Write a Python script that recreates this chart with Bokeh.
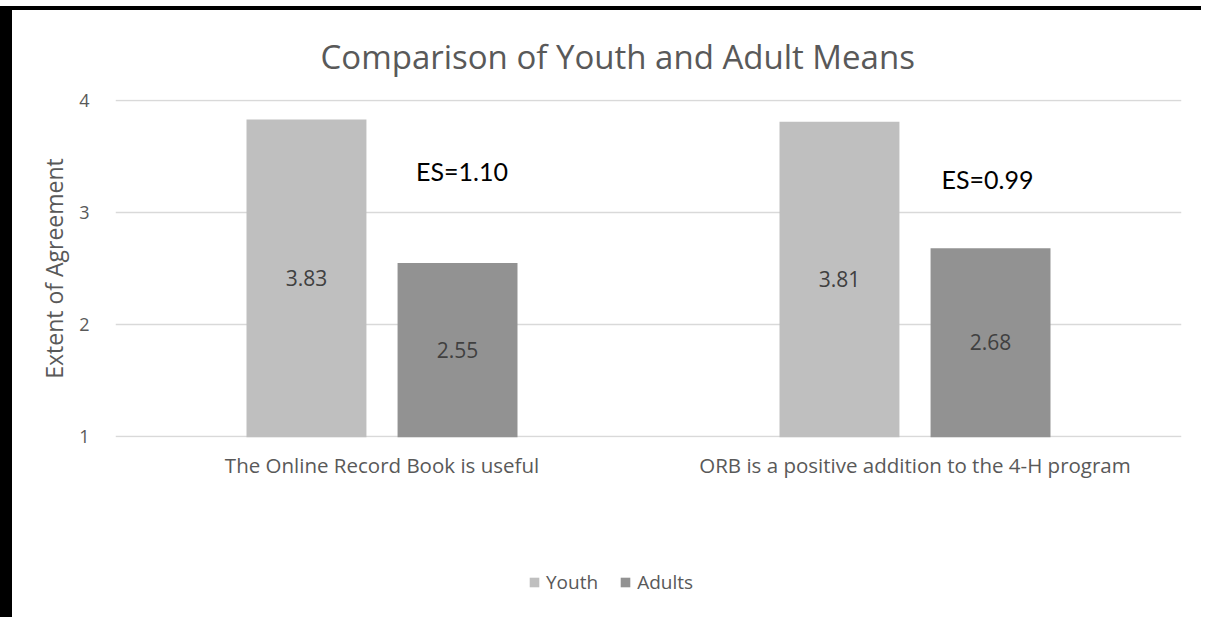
from bokeh.plotting import figure
from bokeh.models import ColumnDataSource, FactorRange, Range1d, Label, Legend, LegendItem, FixedTicker, Title
from bokeh.layouts import column
from bokeh.transform import dodge
from bokeh.core.properties import value
from bokeh.embed import file_html
from bokeh.resources import INLINE
import numpy as np

# ---- data ----
categories = ["The Online Record Book is useful", "ORB is a positive addition to the 4-H program"]
youth = [3.83, 3.81]
adults = [2.55, 2.68]
effect_sizes = ["ES=1.10", "ES=0.99"]
y_ticks = [1, 2, 3, 4]
series_names = ["Youth", "Adults"]

FONT = "Open Sans"
FONT_ES = "Lato"
GREY_TXT = "#595959"
C_YOUTH = "#bfbfbf"
C_ADULT = "#929292"

y_min, y_max = 1, 4
pad = 1 / 112.0

src = ColumnDataSource(dict(
    cat=categories,
    youth=youth,
    adults=adults,
    youth_lbl=[f"{v:.2f}" for v in youth],
    adults_lbl=[f"{v:.2f}" for v in adults],
    youth_mid=list((np.array(youth) + y_min) / 2),
    adults_mid=list((np.array(adults) + y_min) / 2),
))

p = figure(
    x_range=FactorRange(*categories, range_padding=0),
    y_range=Range1d(y_min - pad, y_max + pad),
    frame_width=1066, frame_height=338,
    min_border_left=103, min_border_right=20, min_border_top=80, min_border_bottom=131,
    output_backend="svg", toolbar_location=None,
    background_fill_color="white", border_fill_color="white",
    outline_line_color=None,
)

off = 0.1417
bw = 0.225
p.vbar(x=dodge("cat", -off, range=p.x_range), top="youth", bottom=0, width=bw,
       source=src, fill_color=C_YOUTH, line_color=None)
p.vbar(x=dodge("cat", off, range=p.x_range), top="adults", bottom=0, width=bw,
       source=src, fill_color=C_ADULT, line_color=None)

p.text(x=dodge("cat", -off, range=p.x_range), y="youth_mid", text="youth_lbl", source=src,
       text_font=value(FONT), text_font_size="21px", text_color="#404040",
       text_align="center", text_baseline="middle")
p.text(x=dodge("cat", off, range=p.x_range), y="adults_mid", text="adults_lbl", source=src,
       text_font=value(FONT), text_font_size="21px", text_color="#404040",
       text_align="center", text_baseline="middle")

# effect size annotations
es_pos = [(0.650, 3.375), (1.636, 3.30)]
for (ex, ey), t in zip(es_pos, effect_sizes):
    p.add_layout(Label(x=ex, y=ey, text=t, text_font=FONT_ES, text_font_size="25px",
                       text_color="black", text_align="center", text_baseline="middle"))

# title
title = Title(text="Comparison of Youth and Adult Means", align="left", offset=205,
              text_font=FONT, text_font_size="33px", text_color=GREY_TXT,
              text_font_style="normal", standoff=42)
p.add_layout(title, "above")

# axes
p.xgrid.grid_line_color = None
p.ygrid.grid_line_color = "#d9d9d9"
p.ygrid.grid_line_width = 1.5
p.yaxis.ticker = FixedTicker(ticks=y_ticks)
for ax in (p.xaxis, p.yaxis):
    ax.axis_line_color = None
    ax.major_tick_line_color = None
    ax.minor_tick_line_color = None
    ax.major_label_text_font = FONT
    ax.major_label_text_color = GREY_TXT
p.yaxis.major_label_text_font_size = "18px"
p.xaxis.major_label_text_font_size = "20.5px"
p.yaxis.major_label_standoff = 20
p.xaxis.major_label_standoff = 7
p.yaxis.axis_label = "Extent of Agreement"
p.yaxis.axis_label_text_font = FONT
p.yaxis.axis_label_text_font_size = "23px"
p.yaxis.axis_label_text_font_style = "normal"
p.yaxis.axis_label_text_color = GREY_TXT
p.yaxis.axis_label_standoff = 6

# ---- legend strip (separate small figure below the chart) ----
pl = figure(width=1189, height=50, min_border=0, output_backend="svg", toolbar_location=None,
            x_range=FactorRange(*categories, range_padding=0), y_range=Range1d(0, 1),
            outline_line_color=None, background_fill_color="white", border_fill_color="white")
pl.axis.visible = False
pl.grid.grid_line_color = None
# zero-size bars: they only supply the legend swatches
ly = pl.vbar(x="cat", top="youth", bottom="youth", width=0, source=src,
             fill_color=C_YOUTH, line_color=None)
la = pl.vbar(x="cat", top="adults", bottom="adults", width=0, source=src,
             fill_color=C_ADULT, line_color=None)
legend = Legend(items=[LegendItem(label=series_names[0], renderers=[ly]),
                       LegendItem(label=series_names[1], renderers=[la])],
                orientation="horizontal", location=(413, 23),
                glyph_width=12, glyph_height=12, label_standoff=6, spacing=21,
                padding=0, margin=0, border_line_color=None, background_fill_alpha=0,
                label_text_font=FONT, label_text_font_size="19px", label_text_color=GREY_TXT)
pl.add_layout(legend, "center")

layout = column(p, pl, spacing=0)
layout.styles = {"border-left": "12px solid black", "border-top": "4px solid black", "margin-top": "6px"}

open("out.html", "w").write(file_html(layout, INLINE))
